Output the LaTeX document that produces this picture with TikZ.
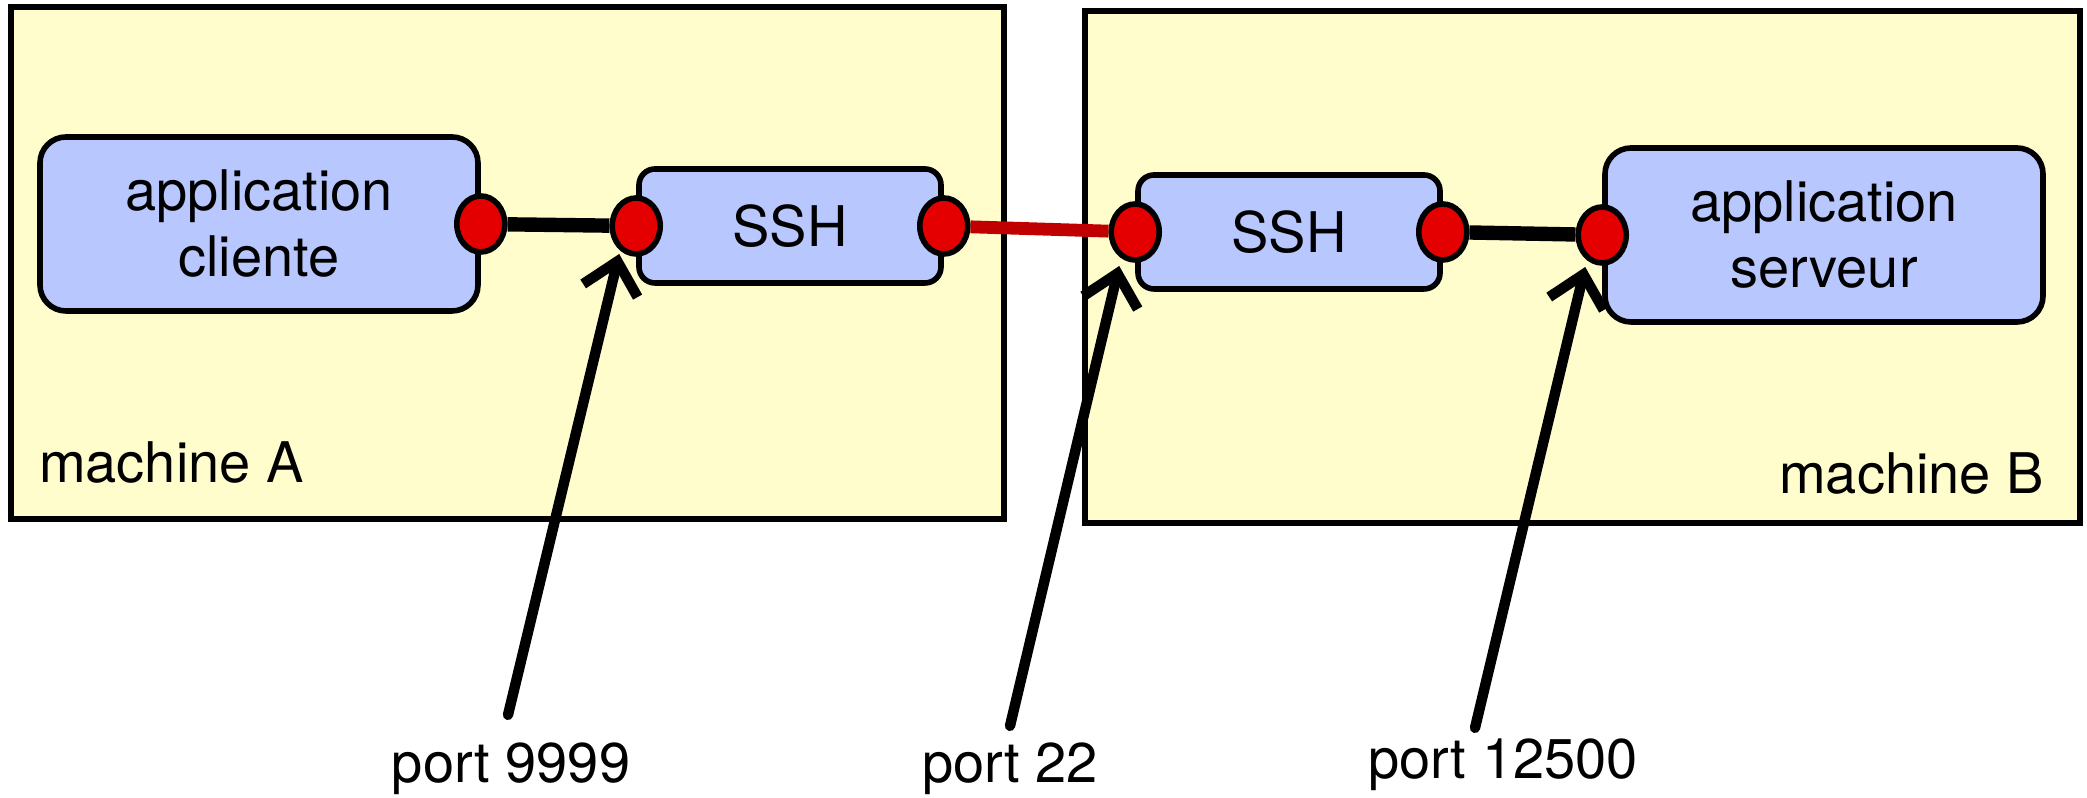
\documentclass[tikz,border=0pt]{standalone}
\usepackage{fontspec}
\setmainfont{TeX Gyre Heros}
\usetikzlibrary{arrows.meta, shapes.geometric, positioning}
\definecolor{PaleYellow}{RGB}{255,253,204}
\definecolor{SoftBlue}{RGB}{184,200,255}
\definecolor{PortRed}{RGB}{228,0,0}
\definecolor{LinkRed}{RGB}{192,0,0}

\begin{document}
\begin{tikzpicture}[x=0.25pt, y=-0.25pt, font=\fontsize{14}{16.5}\selectfont,
    machine/.style={draw=black, fill=PaleYellow, line width=1.4pt},
    appbox/.style={draw=black, fill=SoftBlue, line width=1.4pt, rounded corners=6.5pt,
      align=center, minimum width=109.5pt, minimum height=43.5pt},
    sshbox/.style={draw=black, fill=SoftBlue, line width=1.4pt, rounded corners=4pt,
      minimum width=75.5pt, minimum height=28.5pt},
    port/.style={ellipse, draw=black, fill=PortRed, line width=1.4pt, inner sep=0pt,
      minimum width=12pt, minimum height=14pt},
    wire/.style={line width=3.6pt},
    pointer/.style={-{Straight Barb[length=7.5pt 0, width=14pt 0]}, line width=2.6pt, line cap=round}]

  \useasboundingbox (0,0) rectangle (2087,798);

  % the two machines
  \draw[machine] (11,7) rectangle (1004,519);
  \draw[machine] (1085,11) rectangle (2080,523);
  \node[anchor=west] (nameA) at (25,463) {machine A};
  \node[anchor=east] (nameB) at (2058,474) {machine B};

  % programs
  \node[appbox] (client) at (259,224) {application\\cliente};
  \node[sshbox] (sshA) at (790,226) {SSH};
  \node[sshbox] (sshB) at (1289,232) {SSH};
  \node[appbox] (server) at (1824,235) {application\\serveur};

  % ports
  \node[port] (pc) at (client.east) {};
  \node[port] (pa1) at (sshA.west) {};
  \node[port] (pa2) at (sshA.east) {};
  \node[port] (pb1) at (sshB.west) {};
  \node[port] (pb2) at (sshB.east) {};
  \node[port] (ps) at (server.west) {};

  \draw[wire] (pc) -- (pa1);
  \draw[wire, LinkRed, line width=3.2pt] (pa2) -- (pb1);
  \draw[wire] (pb2) -- (ps);

  % port numbers
  \node (l9999) at (511,769) {port 9999};
  \node (l22) at (1010,769) {port 22};
  \node (l12500) at (1503,765) {port 12500};
  \coordinate (t9999) at ([xshift=-4.25pt, yshift=-7pt]pa1.center);
  \coordinate (t22) at ([xshift=-4pt, yshift=-8.5pt]pb1.center);
  \coordinate (t12500) at ([xshift=-4.25pt, yshift=-8pt]ps.center);

  \draw[pointer] ([xshift=-0.75pt, yshift=3.5pt]l9999.north) -- (t9999);
  \draw[pointer] ([yshift=0.75pt]l22.north) -- (t22);
  \draw[pointer] ([xshift=-7pt, yshift=-0.75pt]l12500.north) -- (t12500);
\end{tikzpicture}
\end{document}
